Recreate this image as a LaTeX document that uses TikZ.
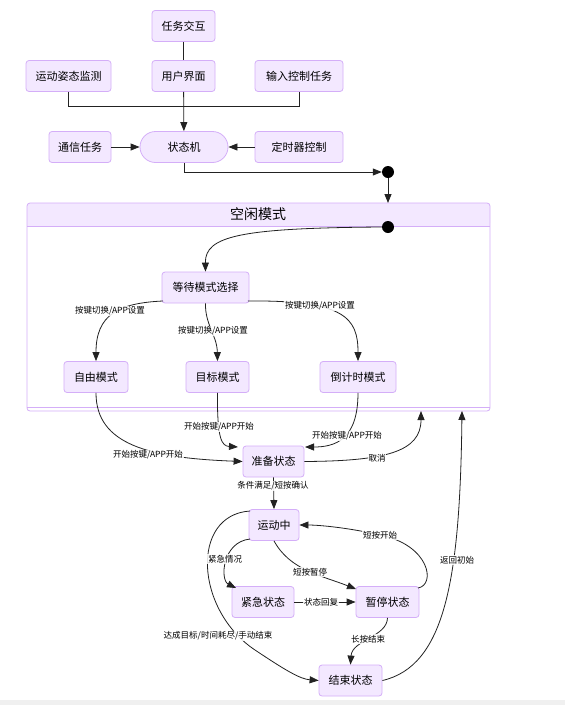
\documentclass[tikz,border=0pt]{standalone}
\usepackage{fontspec}
\newfontfamily\cjk{Noto Sans CJK SC}
\usetikzlibrary{arrows.meta}
\definecolor{nodefill}{HTML}{F3E8FF}
\definecolor{nodeline}{HTML}{D4AEF8}
\definecolor{linec}{HTML}{222222}
\tikzset{
  st/.style={draw=nodeline, fill=nodefill, rounded corners=3pt, minimum height=31pt, inner sep=0pt, line width=0.8pt, font=\cjk\fontsize{11}{12}\selectfont},
  ln/.style={draw=linec, line width=0.8pt},
  arr/.style={ln, -{Triangle[length=9pt,width=7pt]}},
  lbl/.style={fill=white, fill opacity=0.85, text opacity=1, inner sep=0.6pt, font=\cjk\fontsize{8.5}{9}\selectfont},
  dot/.style={circle, fill=black, minimum size=12pt, inner sep=0pt}
}
\begin{document}
\begin{tikzpicture}[x=1pt,y=-1pt]
\useasboundingbox (0,0) rectangle (565,705);
\fill[gray!12] (0,700) rectangle (565,705);
% top section
\node[st, minimum width=63pt] (rw) at (183.5,26) {任务交互};
\node[st, minimum width=85pt] (yd) at (68.5,76) {运动姿态监测};
\node[st, minimum width=63pt] (ui) at (183.5,76) {用户界面};
\node[st, minimum width=88pt] (sr) at (299,76) {输入控制任务};
\node[st, minimum width=62pt] (tx) at (80,147) {通信任务};
\node[st, minimum width=88pt, rounded corners=15.5pt] (sm) at (184,147) {状态机};
\node[st, minimum width=88pt] (ds) at (299,147) {定时器控制};
\node[dot] (c1) at (388,172) {};
\draw[ln] (rw) -- (ui);
\draw[ln] (yd.south) -- ++(0,14) -| (sr.south);
\draw[arr] (ui) -- (sm);
\draw[arr] (tx) -- (sm);
\draw[arr] (ds) -- (sm);
\draw[arr] (sm.south) |- (c1.west);
% idle container
\path[fill=white] (27,203) rectangle (490,411);
\fill[nodefill, rounded corners=3pt] (27,226) -- (27,203) -- (490,203) -- (490,226) -- cycle;
\fill[nodefill] (27,222) rectangle (490,226);
\draw[nodeline, line width=0.8pt] (27,226) -- (490,226);
\draw[nodeline, line width=0.8pt] (27,407) -- (490,407);
\draw[nodeline, line width=0.8pt, rounded corners=3pt] (27,203) rectangle (490,411);
\node[font=\cjk\fontsize{14}{16}\selectfont] (idt) at (258,214) {空闲模式};
\coordinate (itop) at (388,203);
\draw[arr] (c1) -- (itop);
\node[dot] (c2) at (388,227) {};
\node[st, minimum width=87pt] (wait) at (205.5,287.5) {等待模式选择};
\node[st, minimum width=64pt] (free) at (96,377) {自由模式};
\node[st, minimum width=63pt] (goal) at (217.5,377) {目标模式};
\node[st, minimum width=76pt] (cnt) at (358,377) {倒计时模式};
\draw[arr] (c2.west) .. controls (240,228) and (205,236) .. (wait.north);
\draw[arr] (163,301) .. controls (118,303) and (96,315) .. (free.north);
\draw[arr] (wait.south) .. controls (205,325) and (217,335) .. (goal.north);
\draw[arr] (248,301) .. controls (345,300) and (358,318) .. (cnt.north);
\node[lbl] (l1) at (110,311) {按键切换/APP设置};
\node[lbl] (l2) at (213,331) {按键切换/APP设置};
\node[lbl] (l3) at (320,306) {按键切换/APP设置};
% ready
\node[st, minimum width=61pt] (ready) at (273.5,461.5) {准备状态};
\coordinate (ib1) at (421,411);
\coordinate (ib2) at (462,411);
\draw[arr] (free.south) .. controls (96,445) and (150,458) .. (ready.west);
\draw[arr] (goal.south) .. controls (217,440) and (222,446) .. (238,447);
\draw[arr] (cnt.south) .. controls (358,440) and (335,447) .. (305,447);
\draw[arr] (ready.east) .. controls (385,461) and (421,452) .. (ib1);
\node[lbl] (l4) at (148,455) {开始按键/APP开始};
\node[lbl] (l5) at (219,427) {开始按键/APP开始};
\node[lbl] (l6) at (347,436) {开始按键/APP开始};
\node[lbl] (l7) at (377,458) {取消};
% motion
\node[st, minimum width=50pt] (run) at (274,525) {运动中};
\node[st, minimum width=62pt] (emg) at (263,602) {紧急状态};
\node[st, minimum width=63pt] (pause) at (387.5,602) {暂停状态};
\node[st, minimum width=63pt] (fin) at (350.5,680.5) {结束状态};
\draw[arr] (ready.south) -- (run.north);
\node[lbl] (l8) at (273,486) {条件满足/短按确认};
\draw[arr] (250,511) .. controls (190,515) and (195,610) .. (255,650) .. controls (285,670) and (300,679) .. (fin.west);
\node[lbl] (l9) at (218,636) {达成目标/时间耗尽/手动结束};
\draw[arr] (250,539) .. controls (222,542) and (220,580) .. (236,588);
\node[lbl] (l10) at (225,559) {紧急情况};
\draw[arr] (run.south) .. controls (290,570) and (320,575) .. (356,589);
\node[lbl] (l11) at (310,572) {短按暂停};
\draw[arr] (418,588) .. controls (436,585) and (430,545) .. (380,535) .. controls (350,528) and (320,525) .. (run.east);
\node[lbl] (l12) at (380,535) {短按开始};
\draw[arr] (emg.east) -- (pause.west);
\node[lbl] (l13) at (321,602) {状态回复};
\draw[arr] (pause.south) .. controls (387,637) and (352,640) .. (fin.north);
\node[lbl] (l14) at (368,639) {长按结束};
\draw[arr] (fin.east) .. controls (445,666) and (460,580) .. (ib2);
\node[lbl] (l15) at (457,560) {返回初始};
\end{tikzpicture}
\end{document}
